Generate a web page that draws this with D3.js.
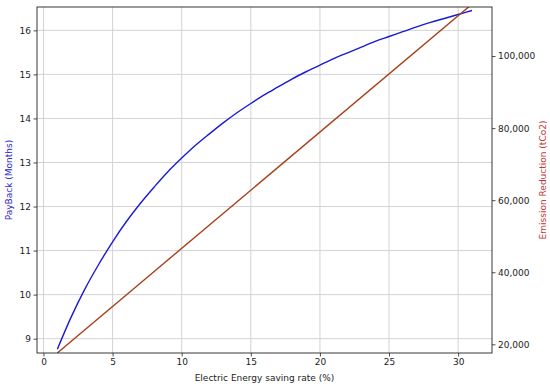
<!DOCTYPE html>
<html><head><meta charset="utf-8">
<script src="https://cdn.jsdelivr.net/npm/d3@7/dist/d3.min.js"></script>
<style>
body{margin:0;background:#fff;}
svg text{font-family:"DejaVu Sans",sans-serif;}
</style></head>
<body><svg id="c" width="550" height="388"></svg>
<script>
const savingRate = [1,2,3,4,5,6,7,8,9,10,11,12,13,14,15,16,17,18,19,20,21,22,23,24,25,26,27,28,29,30,31];
const payback = [8.76,9.49,10.13,10.69,11.20,11.66,12.07,12.44,12.79,13.10,13.39,13.65,13.90,14.13,14.34,14.54,14.72,14.90,15.06,15.21,15.36,15.49,15.62,15.75,15.86,15.97,16.08,16.18,16.27,16.36,16.45];
const emissionX = [1,31];
const emission = [17600,114400];
const xTicks = [0,5,10,15,20,25,30];
const leftTicks = [9,10,11,12,13,14,15,16];
const rightTicks = [20000,40000,60000,80000,100000];

const svg = d3.select("#c");
const L=37,R=492,T=7,B=353;
const x = d3.scaleLinear().domain([-0.47,32.45]).range([L,R]);
const yL = d3.scaleLinear().domain([8.675,16.53]).range([B,T]);
const yR = d3.scaleLinear().domain([17590,113610]).range([B,T]);

svg.append("defs").append("clipPath").attr("id","clip")
  .append("rect").attr("x",L).attr("y",T).attr("width",R-L).attr("height",B-T);

const g = svg.append("g");
g.selectAll(".vg").data(xTicks).join("line")
  .attr("x1",d=>x(d)).attr("x2",d=>x(d)).attr("y1",T).attr("y2",B)
  .attr("stroke","#d3d3d3").attr("stroke-width",1);
g.selectAll(".hg").data(leftTicks).join("line")
  .attr("y1",d=>yL(d)).attr("y2",d=>yL(d)).attr("x1",L).attr("x2",R)
  .attr("stroke","#d3d3d3").attr("stroke-width",1);

const cl = svg.append("g").attr("clip-path","url(#clip)");
cl.append("path").datum(savingRate.map((v,i)=>[v,payback[i]]))
  .attr("fill","none").attr("stroke","#1a1ad6").attr("stroke-width",1.4)
  .attr("d",d3.line().x(d=>x(d[0])).y(d=>yL(d[1])).curve(d3.curveMonotoneX));
cl.append("path").datum(emissionX.map((v,i)=>[v,emission[i]]))
  .attr("fill","none").attr("stroke","#a8401c").attr("stroke-width",1.4)
  .attr("d",d3.line().x(d=>x(d[0])).y(d=>yR(d[1])));

const fmt = d3.format(",");
const FS = 9;
const ax = svg.append("g").attr("transform",`translate(0,${B})`)
  .call(d3.axisBottom(x).tickValues(xTicks).tickSize(3.5).tickPadding(2).tickFormat(d3.format("d")));
const al = svg.append("g").attr("transform",`translate(${L},0)`)
  .call(d3.axisLeft(yL).tickValues(leftTicks).tickSize(3.5).tickPadding(2.5).tickFormat(d3.format("d")));
const ar = svg.append("g").attr("transform",`translate(${R},0)`)
  .call(d3.axisRight(yR).tickValues(rightTicks).tickSize(3.5).tickPadding(2.5).tickFormat(fmt));
[ax,al,ar].forEach(a=>{
  a.select(".domain").remove();
  a.selectAll("text").attr("font-size",FS).attr("fill","#222").style("font-family","DejaVu Sans");
  a.selectAll("line").attr("stroke","#222").attr("stroke-width",0.8);
});
svg.append("rect").attr("x",L).attr("y",T).attr("width",R-L).attr("height",B-T)
  .attr("fill","none").attr("stroke","#222").attr("stroke-width",0.9);

svg.append("text").attr("x",(L+R)/2).attr("y",381).attr("text-anchor","middle")
  .attr("font-size",FS).attr("fill","#222").text("Electric Energy saving rate (%)");
svg.append("text").attr("transform",`translate(12,${(T+B)/2}) rotate(-90)`).attr("text-anchor","middle")
  .attr("font-size",FS).attr("fill","#2a2ad0").text("PayBack (Months)");
svg.append("text").attr("transform",`translate(546,${(T+B)/2}) rotate(-90)`).attr("text-anchor","middle")
  .attr("font-size",FS).attr("fill","#c03a36").text("Emission Reduction (tCo2)");
</script></body></html>
